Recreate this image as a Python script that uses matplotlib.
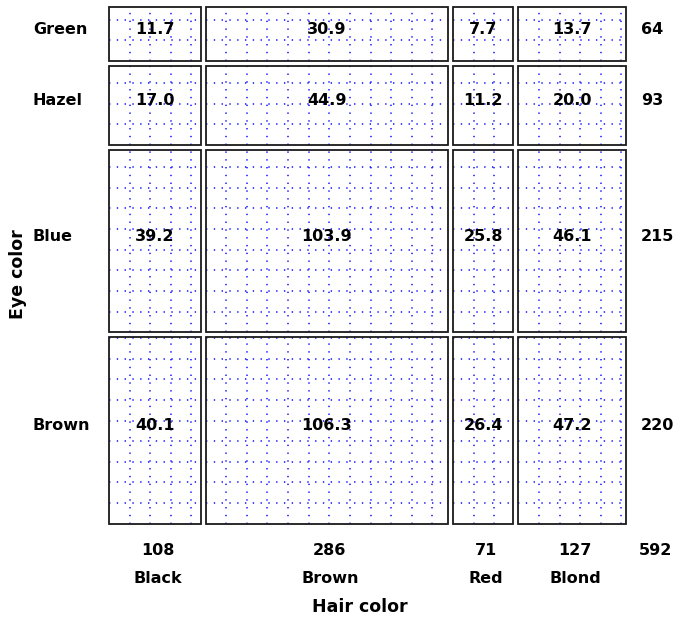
import matplotlib
matplotlib.use("Agg")
import matplotlib.pyplot as plt
import numpy as np
from matplotlib.patches import Rectangle

# expected frequencies (sieve diagram), eye color x hair color
eye = ["Green", "Hazel", "Blue", "Brown"]          # top to bottom
hair = ["Black", "Brown", "Red", "Blond"]
eye_totals = [64, 93, 215, 220]
hair_totals = [108, 286, 71, 127]
grand_total = 592
expected = [
    [11.7, 30.9, 7.7, 13.7],
    [17.0, 44.9, 11.2, 20.0],
    [39.2, 103.9, 25.8, 46.1],
    [40.1, 106.3, 26.4, 47.2],
]

gap = 6.0                       # space between tiles, in count units
span = grand_total + gap * (len(hair) - 1)
step = np.sqrt(grand_total)     # one grid square = one expected count

W, H = 674, 618
fig = plt.figure(figsize=(W / 100, H / 100), dpi=100)
left_px, right_px, top_px, bot_px = 109, 626, 6.7, 523.7
ax = fig.add_axes([left_px / W, 1 - bot_px / H,
                   (right_px - left_px) / W, (bot_px - top_px) / H])
ax.set_xlim(0, span)
ax.set_ylim(0, span)
ax.axis("off")

px = span / (right_px - left_px)   # data units per pixel

font = dict(family="DejaVu Sans", fontweight="bold", fontsize=11.5)
grid_style = dict(color="#1010ff", lw=1.1, linestyle=(0, (0.9, 4.2)),
                  zorder=2, clip_on=False)

# x positions of columns
xs = np.concatenate([[0], np.cumsum(np.array(hair_totals) + gap)])[:-1]
# y positions of rows (bottom row is last in list)
heights = eye_totals[::-1]
ys_rev = np.concatenate([[0], np.cumsum(np.array(heights) + gap)])[:-1]
ys = ys_rev[::-1]

for i, rname in enumerate(eye):
    y0, h = ys[i], eye_totals[i]
    for j, cname in enumerate(hair):
        x0, w = xs[j], hair_totals[j]
        ax.add_patch(Rectangle((x0, y0), w, h, fill=False,
                               edgecolor="#1a1a1a", linewidth=1.3,
                               zorder=3, clip_on=False))
        # sieve grid
        k = x0 + step
        while k < x0 + w - 0.5:
            ax.plot([k, k], [y0, y0 + h], **grid_style)
            k += step
        k = y0 + step
        while k < y0 + h - 0.5:
            ax.plot([x0, x0 + w], [k, k], **grid_style)
            k += step
        ax.text(x0 + w / 2, y0 + h / 2, f"{expected[i][j]:.1f}",
                ha="center", va="baseline", zorder=4, **font)
    # row label and total
    ax.text((33 - left_px) * px, y0 + h / 2, rname, ha="left",
            va="baseline", clip_on=False, **font)
    ax.text((641 - left_px) * px, y0 + h / 2, str(eye_totals[i]),
            ha="left", va="baseline", clip_on=False, **font)

for j, cname in enumerate(hair):
    cx = xs[j] + hair_totals[j] / 2 + 3.5
    ax.text(cx, -(555 - bot_px) * px, str(hair_totals[j]), ha="center",
            va="baseline", clip_on=False, **font)
    ax.text(cx, -(583 - bot_px) * px, cname, ha="center",
            va="baseline", clip_on=False, **font)

ax.text((639 - left_px) * px, -(555 - bot_px) * px, str(grand_total),
        ha="left", va="baseline", clip_on=False, **font)

ax.text((360 - left_px) * px, -(612 - bot_px) * px, "Hair color",
        ha="center", va="baseline", clip_on=False,
        family="DejaVu Sans", fontweight="bold", fontsize=12.5)
ax.text((18 - left_px) * px, (bot_px - 274) * px, "Eye color",
        ha="center", va="center", rotation=90, clip_on=False,
        family="DejaVu Sans", fontweight="bold", fontsize=12.5)

fig.savefig("out.png", dpi=100)
